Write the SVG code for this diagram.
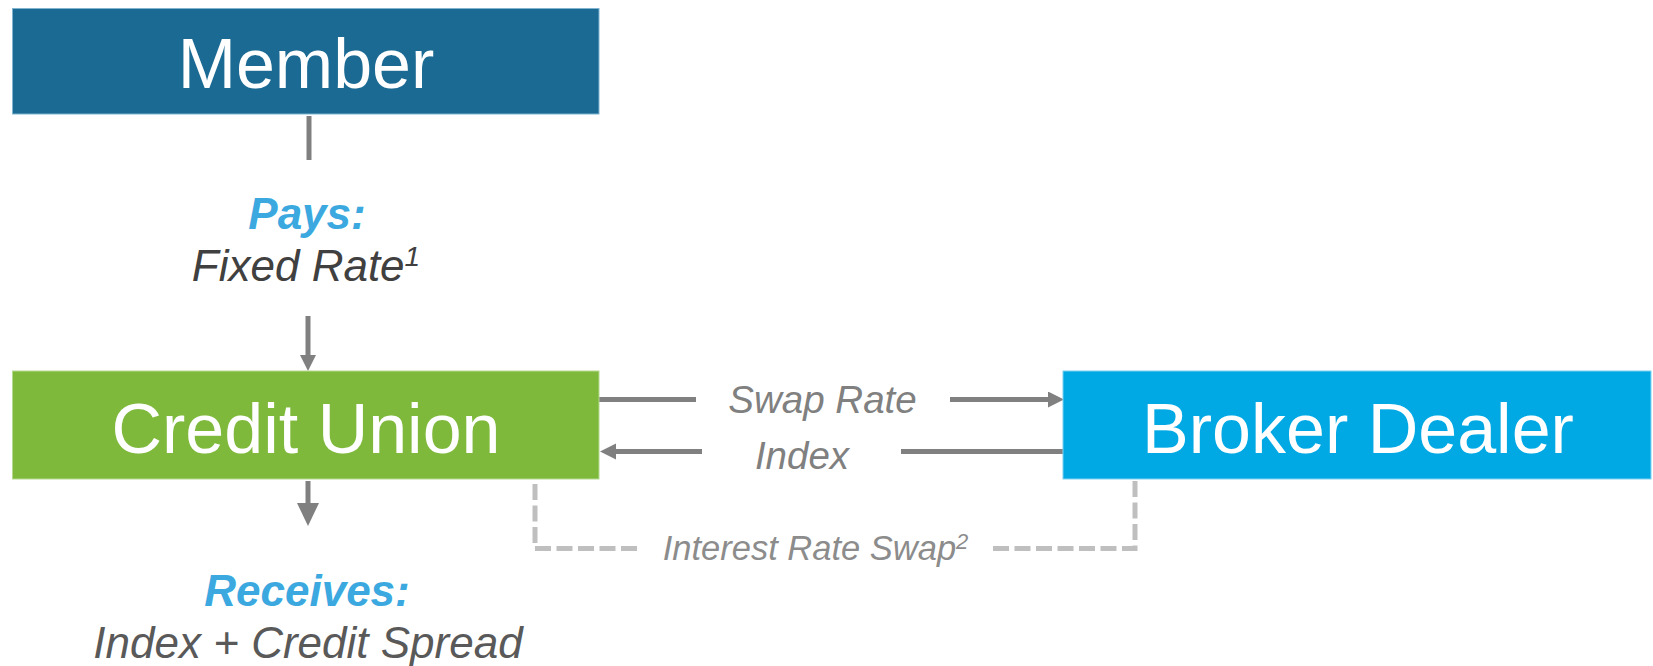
<svg xmlns="http://www.w3.org/2000/svg" width="1653" height="666" viewBox="0 0 1653 666">
<style>
  .box-text { font-family: "Liberation Sans", Arial, sans-serif; font-size: 70px; fill: #ffffff; text-anchor: middle; }
  .lbl-head { font-family: "Liberation Sans", Arial, sans-serif; font-size: 44px; font-weight: bold; font-style: italic; fill: #3BA9E0; text-anchor: middle; }
  .lbl-body { font-family: "Liberation Sans", Arial, sans-serif; font-size: 44px; font-style: italic; text-anchor: middle; }
  .lbl-flow { font-family: "Liberation Sans", Arial, sans-serif; font-size: 38.5px; font-style: italic; fill: #808080; text-anchor: middle; }
  .lbl-swap { font-family: "Liberation Sans", Arial, sans-serif; font-size: 34.5px; font-style: italic; fill: #8c8c8c; text-anchor: middle; }
  .conn { stroke: #808080; stroke-width: 5; fill: none; }
  .dash { stroke: #bfbfbf; stroke-width: 5; fill: none; stroke-dasharray: 16 5.5; }
</style>
<defs>
  <marker id="arr" markerUnits="userSpaceOnUse" markerWidth="17" markerHeight="17" refX="0" refY="8" orient="auto">
    <path d="M0,0 L16,8 L0,16 z" fill="#808080"/>
  </marker>
  <marker id="arrBig" markerUnits="userSpaceOnUse" markerWidth="24" markerHeight="23" refX="0" refY="11" orient="auto">
    <path d="M0,0 L23,11 L0,22 z" fill="#808080"/>
  </marker>
</defs>
<rect width="1653" height="666" fill="#ffffff"/>

<g id="connectors">
  <line class="conn" x1="309" y1="116" x2="309" y2="160"/>
  <line class="conn" x1="308" y1="316" x2="308" y2="355" stroke-width="4.5" marker-end="url(#arr)"/>
  <line class="conn" x1="308" y1="481" x2="308" y2="503" stroke-width="7" marker-end="url(#arrBig)"/>
  <line class="conn" x1="599" y1="399.5" x2="696" y2="399.5"/>
  <line class="conn" x1="950" y1="399.5" x2="1048" y2="399.5" marker-end="url(#arr)"/>
  <line class="conn" x1="1063" y1="451.5" x2="901" y2="451.5"/>
  <line class="conn" x1="702" y1="451.5" x2="616" y2="451.5" marker-end="url(#arr)"/>
  <path class="dash" d="M535,484 L535,548.5 L640,548.5"/>
  <path class="dash" d="M993,548.5 L1135,548.5 L1135,481"/>
</g>

<g id="member">
  <rect x="12.5" y="8.5" width="586.5" height="105.5" fill="#1B6A93" stroke="#7fb3cf" stroke-width="1"/>
  <text class="box-text" x="306" y="87.5">Member</text>
</g>

<g id="credit-union">
  <rect x="12.5" y="371" width="586.5" height="108" fill="#7EB93B" stroke="#b5d98f" stroke-width="1"/>
  <text class="box-text" x="306" y="452.5">Credit Union</text>
</g>

<g id="broker-dealer">
  <rect x="1063" y="371" width="588" height="108" fill="#00A8E4" stroke="#7fd0f0" stroke-width="1"/>
  <text class="box-text" x="1358" y="452.5">Broker Dealer</text>
</g>

<g id="pays-label">
  <text class="lbl-head" x="307" y="228.5">Pays:</text>
  <text class="lbl-body" x="306" y="281" fill="#404040">Fixed Rate<tspan font-size="28" dy="-15">1</tspan></text>
</g>

<g id="receives-label">
  <text class="lbl-head" x="307" y="606">Receives:</text>
  <text class="lbl-body" x="308" y="657.5" fill="#595959">Index + Credit Spread</text>
</g>

<g id="flow-labels">
  <text class="lbl-flow" x="822.5" y="412.5">Swap Rate</text>
  <text class="lbl-flow" x="802" y="468.5">Index</text>
  <text class="lbl-swap" x="815.5" y="560">Interest Rate Swap<tspan font-size="22" dy="-11">2</tspan></text>
</g>
</svg>
